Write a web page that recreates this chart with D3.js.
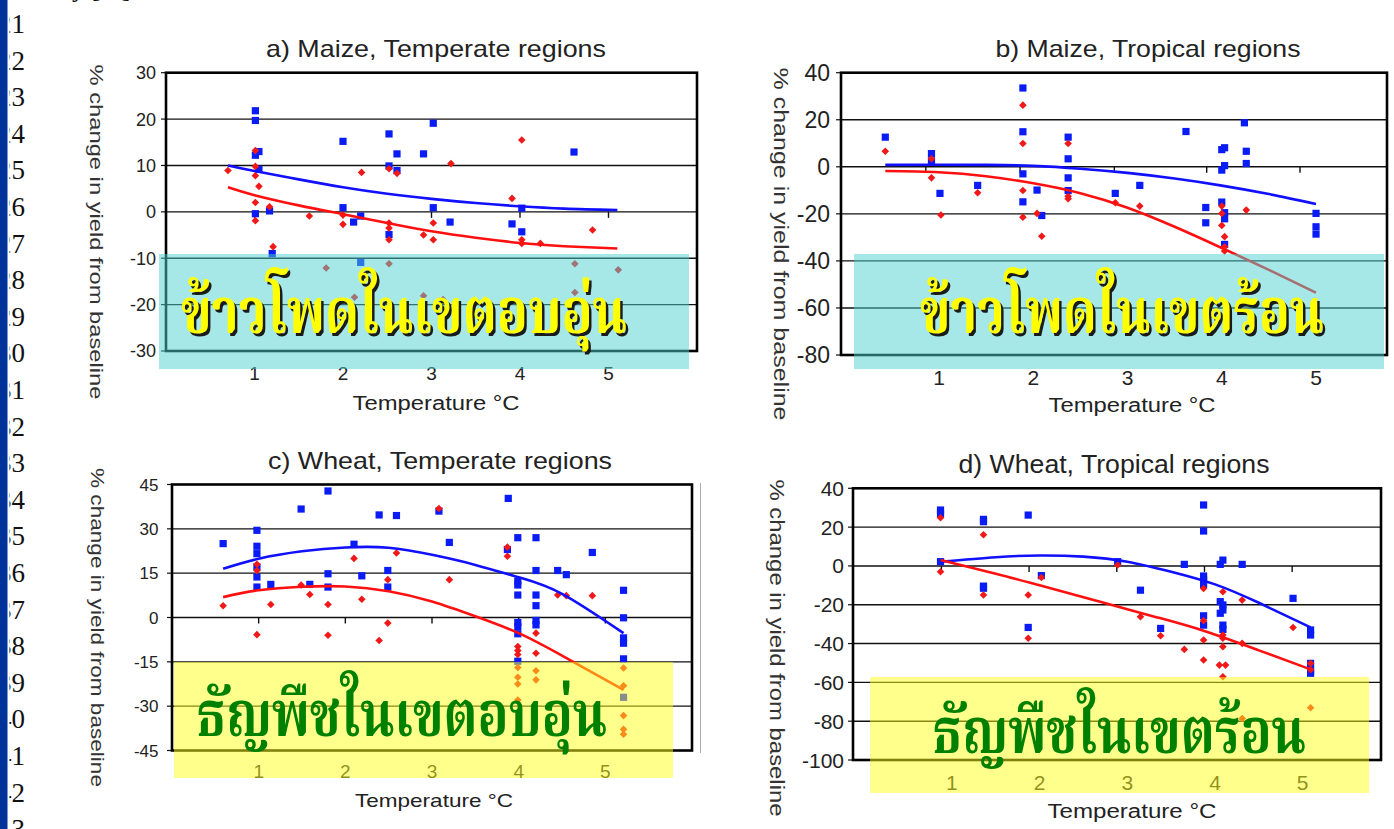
<!DOCTYPE html>
<html><head><meta charset="utf-8">
<script src="https://cdn.jsdelivr.net/npm/d3@7"></script>
<style>
html,body{margin:0;padding:0;background:#fff;overflow:hidden}
svg{display:block}
text{font-family:"Liberation Sans",Arial,sans-serif;fill:#222}
</style></head><body>
<svg id="c" width="1394" height="829"></svg>
<script>
// ---------------- DATA ----------------
const lineNumbers = ["21","22","23","24","25","26","27","28","29","30","31","32","33","34","35","36","37","38","39","40","41","42","43"];
const topFragment = "y [%]";
const titles = ["a) Maize, Temperate regions","b) Maize, Tropical regions","c) Wheat, Temperate regions","d) Wheat, Tropical regions"];
const xAxisTitle = "Temperature °C";
const yAxisTitle = "% change in yield from baseline";
const xTickLabels = [1,2,3,4,5];
const yTicksA = [-30,-20,-10,0,10,20,30];
const yTicksB = [-80,-60,-40,-20,0,20,40];
const yTicksC = [-45,-30,-15,0,15,30,45];
const yTicksD = [-100,-80,-60,-40,-20,0,20,40];
const xTickMarksA = [1,2,3,4,5];
const xTickMarksB = [0.86,1.86,2.86,3.84,4.83];
const xTickMarksC = [1,2,3,4,5];
const xTickMarksD = [0.88,1.88,2.88,3.88,4.88];
const thaiLabels = ["ข้าวโพดในเขตอบอุ่น","ข้าวโพดในเขตร้อน","ธัญพืชในเขตอบอุ่น","ธัญพืชในเขตร้อน"];

// a) Maize, temperate
const maizeTempBlue = [[1.01,21.8],[1.01,19.7],[1.01,12.2],[1.05,13.0],[1.05,9.2],[1.01,-0.4],[1.17,0.2],[1.2,-9.0],[2.0,15.2],[2.0,0.9],[2.12,-2.2],[2.2,-0.9],[2.2,-10.9],[2.52,16.8],[2.52,9.9],[2.52,-4.9],[2.61,12.5],[2.61,8.9],[2.91,12.5],[3.02,19.1],[3.02,0.9],[3.21,-2.2],[3.91,-2.6],[4.02,0.8],[4.02,-4.3],[4.61,12.9]];
const maizeTempRed = [[0.7,8.9],[1.01,13.2],[1.01,9.8],[1.01,7.8],[1.05,5.5],[1.01,2.0],[1.01,-1.9],[1.17,1.1],[1.21,-7.5],[1.62,-0.9],[1.81,-12.1],[2.0,-0.7],[2.0,-2.7],[2.13,-18.4],[2.21,8.5],[2.52,9.3],[2.52,-2.4],[2.52,-3.5],[2.52,-6.0],[2.52,-11.2],[2.61,8.3],[2.91,-5.0],[2.91,-18.1],[3.02,-2.4],[3.02,-6.0],[3.13,-18.9],[3.22,10.4],[3.91,2.9],[4.02,15.5],[4.02,-6.0],[4.02,-6.8],[4.23,-6.8],[4.62,-11.2],[4.62,-17.4],[4.82,-3.9],[5.11,-12.5]];
const maizeTempBlueFit = [[0.7,10.0],[1,8.8],[1.5,7.0],[2,5.3],[2.5,3.9],[3,2.8],[3.5,1.9],[4,1.2],[4.5,0.7],[5.1,0.4]];
const maizeTempRedFit = [[0.7,5.3],[1,3.6],[1.5,1.4],[2,-0.5],[2.5,-2.4],[3,-4.2],[3.5,-5.6],[4,-6.7],[4.5,-7.4],[5.1,-7.9]];

// b) Maize, tropical
const maizeTropBlue = [[0.43,12.6],[0.92,5.6],[0.92,2.5],[1.01,-11.3],[1.41,-7.9],[1.89,33.5],[1.89,14.9],[1.89,-3.0],[1.89,-14.9],[2.04,-9.9],[2.09,-20.7],[2.37,12.6],[2.37,3.4],[2.37,-4.7],[2.37,-10.1],[2.87,-11.3],[3.13,-7.9],[3.62,15.0],[3.83,-17.3],[3.83,-23.8],[4.0,7.3],[4.03,8.1],[4.03,0.5],[4.0,-1.4],[4.0,-15.0],[4.03,-19.5],[4.03,-22.1],[4.03,-33.0],[4.24,18.7],[4.26,6.6],[4.26,1.4],[5.0,-19.8],[5.0,-25.5],[5.0,-28.6]];
const maizeTropRed = [[0.43,6.6],[0.92,3.4],[0.92,-4.7],[1.02,-20.5],[1.41,-11.0],[1.89,26.2],[1.89,9.9],[1.89,-10.1],[1.89,-21.4],[2.04,-19.8],[2.09,-29.5],[2.37,9.9],[2.37,-12.5],[2.37,-13.6],[2.87,-15.3],[3.13,-16.7],[4.0,-16.7],[4.0,-19.8],[4.0,-24.9],[4.03,-29.7],[4.03,-34.0],[4.03,-35.8],[4.26,-18.4]];
const maizeTropBlueFit = [[0.43,0.8],[1,0.9],[1.5,0.8],[2,0.4],[2.5,-0.8],[3,-2.6],[3.5,-5.0],[4,-8.0],[4.5,-11.6],[5,-15.8]];
const maizeTropRedFit = [[0.43,-1.8],[1,-2.3],[1.5,-4.0],[2,-7.0],[2.5,-11.2],[3,-17.4],[3.5,-25.5],[4,-34.5],[4.5,-43.8],[5,-53.5]];

// c) Wheat, temperate
const wheatTempBlue = [[0.59,25.0],[0.98,29.5],[0.98,24.1],[0.98,21.6],[0.98,17.1],[0.98,13.7],[0.98,10.3],[1.14,11.2],[1.49,36.7],[1.59,11.2],[1.80,42.8],[1.80,14.8],[1.80,10.3],[2.10,24.8],[2.19,14.1],[2.39,34.7],[2.49,15.9],[2.49,10.3],[2.59,34.5],[3.08,36.0],[3.20,25.4],[3.88,40.3],[3.87,23.0],[3.99,27.0],[3.99,12.3],[3.99,11.0],[3.99,7.6],[3.99,-1.7],[3.99,-3.1],[3.99,-5.5],[3.99,-14.8],[4.20,27.0],[4.20,15.9],[4.20,7.6],[4.20,4.0],[4.20,-1.0],[4.20,-2.5],[4.45,15.9],[4.55,14.5],[4.85,22.0],[5.21,9.2],[5.21,-0.1],[5.21,-6.9],[5.21,-8.7],[5.21,-14.0],[5.21,-27.0]];
const wheatTempRed = [[0.59,4.0],[0.98,18.0],[0.98,15.9],[0.98,-5.8],[1.14,4.4],[1.49,11.0],[1.59,7.8],[1.80,4.4],[1.80,-6.0],[2.10,20.0],[2.19,6.2],[2.39,-7.8],[2.49,12.8],[2.49,-1.9],[2.59,21.8],[3.08,36.9],[3.20,12.8],[3.87,23.8],[3.87,20.7],[3.99,-9.8],[3.99,-11.2],[3.99,-12.5],[3.99,-16.9],[3.99,-20.2],[3.99,-22.5],[3.99,-27.9],[4.20,-5.3],[4.20,-12.1],[4.20,-18.0],[4.20,-21.1],[4.45,7.6],[4.55,7.4],[4.85,7.4],[5.21,-17.1],[5.21,-23.1],[5.21,-33.2],[5.21,-37.8],[5.21,-39.5]];
const wheatTempBlueFit = [[0.59,16.5],[1,19.9],[1.5,22.4],[2,23.7],[2.5,23.6],[3,21.2],[3.5,17.8],[4,13.6],[4.5,8.0],[5.21,-5.3]];
const wheatTempRedFit = [[0.59,6.9],[1,9.2],[1.5,10.4],[2,10.5],[2.5,8.9],[3,5.4],[3.5,0.4],[4,-5.3],[4.5,-12.9],[5.21,-24.5]];

// d) Wheat, tropical
const wheatTropBlue = [[0.87,28.8],[0.87,26.8],[0.87,2.2],[1.36,24.0],[1.36,22.8],[1.36,-10.4],[1.36,-11.5],[1.87,26.2],[1.87,-31.7],[2.02,-5.0],[2.89,2.2],[3.15,-12.5],[3.38,-32.2],[3.65,0.8],[3.87,31.4],[3.87,18.0],[3.87,-5.2],[3.87,-7.3],[3.87,-9.5],[3.87,-25.7],[3.87,-30.5],[4.06,0.8],[4.09,3.0],[4.06,-18.4],[4.09,-20.1],[4.09,-22.7],[4.06,-24.4],[4.09,-30.5],[4.09,-32.7],[4.31,0.8],[4.89,-16.7],[5.09,-33.0],[5.09,-35.6],[5.09,-50.2],[5.09,-53.7],[5.09,-55.3]];
const wheatTropRed = [[0.87,24.8],[0.87,-3.0],[1.36,16.1],[1.36,-15.0],[1.87,-15.0],[1.87,-37.3],[2.02,-6.0],[2.89,0.5],[3.15,-26.2],[3.38,-36.0],[3.65,-43.0],[3.87,-11.6],[3.87,-28.2],[3.87,-38.2],[3.87,-48.5],[4.09,-13.3],[4.09,-35.6],[4.09,-37.3],[4.09,-41.6],[4.05,-51.1],[4.12,-51.1],[4.09,-57.1],[4.31,-17.6],[4.31,-39.9],[4.31,-78.6],[4.89,-31.7],[5.09,-50.2],[5.09,-53.5],[5.09,-73.1]];
const wheatTropBlueFit = [[0.87,2.2],[1.5,4.5],[2,5.4],[2.5,4.8],[3,2.2],[3.5,-3.0],[4,-9.5],[4.5,-19.0],[5.09,-31.7]];
const wheatTropRedFit = [[0.87,3.0],[1.5,-4.0],[2,-10.0],[2.69,-18.4],[3.3,-26.0],[3.87,-33.4],[4.5,-43.5],[5.09,-53.3]];

// ---------------- LAYOUT ----------------
const CYAN = "rgb(77,207,207)", YEL = "rgb(255,255,25)";
const panels = [
 {title:titles[0], blue:maizeTempBlue, red:maizeTempRed, bFit:maizeTempBlueFit, rFit:maizeTempRedFit,
  yTicks:yTicksA, xMarks:xTickMarksA, L:166,R:697,T:72.7,B:351, xDom:[0,6], yDom:[-30,30],
  tX:436,tY:56.7,tW:340,tFs:24, yLabR:156,yLabFs:18, xLabY:380,xLabFs:19,
  xtX:436,xtY:410,xtW:167,xtFs:20, ytX:97,ytY:232,ytW:335,ytFs:19,
  box:[159,254,530,115], boxFill:CYAN, thai:thaiLabels[0], thX:181,thY:333,thW:446, thFill:"#ffff00", shadow:true},
 {title:titles[1], blue:maizeTropBlue, red:maizeTropRed, bFit:maizeTropBlueFit, rFit:maizeTropRedFit,
  yTicks:yTicksB, xMarks:xTickMarksB, L:841,R:1387,T:72.7,B:355, xDom:[-0.04,5.753], yDom:[-80,40],
  tX:1148,tY:57,tW:305,tFs:24, yLabR:830,yLabFs:23, xLabY:385,xLabFs:21,
  xtX:1132,xtY:411.7,xtW:167,xtFs:20, ytX:781,ytY:244,ytW:353,ytFs:21,
  box:[854,254,530,115], boxFill:CYAN, thai:thaiLabels[1], thX:920,thY:333,thW:404, thFill:"#ffff00", shadow:true},
 {title:titles[2], blue:wheatTempBlue, red:wheatTempRed, bFit:wheatTempBlueFit, rFit:wheatTempRedFit,
  yTicks:yTicksC, xMarks:xTickMarksC, L:172,R:692,T:484.5,B:750.5, xDom:[0,6], yDom:[-45,45],
  tX:440,tY:469.3,tW:344,tFs:24, yLabR:158.5,yLabFs:17, xLabY:778,xLabFs:19,
  xtX:434,xtY:806.7,xtW:158,xtFs:19, ytX:97,ytY:627.5,ytW:319,ytFs:18,
  box:[174,662,499,116], boxFill:YEL, thai:thaiLabels[2], thX:196,thY:736,thW:411, thFill:"#008000", shadow:false},
 {title:titles[3], blue:wheatTropBlue, red:wheatTropRed, bFit:wheatTropBlueFit, rFit:wheatTropRedFit,
  yTicks:yTicksD, xMarks:xTickMarksD, L:853,R:1381,T:488.3,B:760, xDom:[-0.128,5.893], yDom:[-100,40],
  tX:1114,tY:473.3,tW:311,tFs:25, yLabR:844,yLabFs:21, xLabY:790,xLabFs:21,
  xtX:1132,xtY:818,xtW:169,xtFs:20, ytX:777,ytY:648,ytW:337,ytFs:20,
  box:[870,677,499,116], boxFill:YEL, thai:thaiLabels[3], thX:932,thY:753,thW:374, thFill:"#008000", shadow:false}
];

const svg = d3.select("#c");

// fragment of text at the very top (mostly above the frame)
svg.append("text").attr("x",72).attr("y",-3).style("font-family","'Liberation Serif',serif")
  .style("font-size","26px").style("fill","#111").text(topFragment);

const diamond = "M0,-3.8L3.8,0L0,3.8L-3.8,0Z";

panels.forEach(p => {
  const g = svg.append("g");
  const x = d3.scaleLinear().domain(p.xDom).range([p.L,p.R]);
  const y = d3.scaleLinear().domain(p.yDom).range([p.B,p.T]);

  g.selectAll(".grid").data(p.yTicks.filter(v => v>p.yDom[0] && v<p.yDom[1])).join("line")
    .attr("x1",p.L).attr("x2",p.R).attr("y1",d=>y(d)).attr("y2",d=>y(d))
    .attr("stroke","#111").attr("stroke-width",1.4);
  g.selectAll(".yt").data(p.yTicks).join("line")
    .attr("x1",p.L-5).attr("x2",p.L).attr("y1",d=>y(d)).attr("y2",d=>y(d))
    .attr("stroke","#111").attr("stroke-width",1.2);
  g.selectAll(".xt").data(p.xMarks).join("line")
    .attr("x1",d=>x(d)).attr("x2",d=>x(d)).attr("y1",y(0)).attr("y2",y(0)+6)
    .attr("stroke","#111").attr("stroke-width",1.4);
  g.append("rect").attr("x",p.L).attr("y",p.T).attr("width",p.R-p.L).attr("height",p.B-p.T)
    .attr("fill","none").attr("stroke","#000").attr("stroke-width",2.6);

  g.selectAll(".bs").data(p.blue).join("rect")
    .attr("x",d=>x(d[0])-3.6).attr("y",d=>y(d[1])-3.6).attr("width",7.2).attr("height",7.2)
    .attr("fill","#0a1cf5");
  g.selectAll(".rd").data(p.red).join("path")
    .attr("d",diamond).attr("transform",d=>`translate(${x(d[0])},${y(d[1])})`)
    .attr("fill","#f01818");

  const line = d3.line().x(d=>x(d[0])).y(d=>y(d[1])).curve(d3.curveNatural);
  g.append("path").attr("d",line(p.bFit)).attr("fill","none").attr("stroke","#1010ff").attr("stroke-width",2.6);
  g.append("path").attr("d",line(p.rFit)).attr("fill","none").attr("stroke","#ff1010").attr("stroke-width",2.6);

  g.selectAll(".yl").data(p.yTicks).join("text")
    .attr("x",p.yLabR).attr("y",d=>y(d)).attr("dy","0.36em").attr("text-anchor","end")
    .style("font-size",p.yLabFs+"px").text(d=>d);
  g.selectAll(".xl").data(xTickLabels).join("text")
    .attr("x",d=>x(d)).attr("y",p.xLabY).attr("text-anchor","middle")
    .style("font-size",p.xLabFs+"px").text(d=>d);
  g.append("text").attr("x",p.tX).attr("y",p.tY).attr("text-anchor","middle")
    .attr("textLength",p.tW).attr("lengthAdjust","spacingAndGlyphs")
    .style("font-size",p.tFs+"px").text(p.title);
  g.append("text").attr("x",p.xtX).attr("y",p.xtY).attr("text-anchor","middle")
    .attr("textLength",p.xtW).attr("lengthAdjust","spacingAndGlyphs")
    .style("font-size",p.xtFs+"px").text(xAxisTitle);
  g.append("text").attr("transform",`translate(${p.ytX},${p.ytY}) rotate(90)`)
    .attr("text-anchor","middle").attr("dy","0.35em")
    .attr("textLength",p.ytW).attr("lengthAdjust","spacingAndGlyphs")
    .style("font-size",p.ytFs+"px").style("fill","#333").text(yAxisTitle);
});

svg.append("line").attr("x1",700.5).attr("x2",700.5).attr("y1",483).attr("y2",753)
  .attr("stroke","#aaa").attr("stroke-width",1);

panels.forEach(p => {
  svg.append("rect").attr("x",p.box[0]).attr("y",p.box[1]).attr("width",p.box[2]).attr("height",p.box[3])
    .attr("fill",p.boxFill).attr("fill-opacity",0.5);
  const mk = (dx,dy,fill) => svg.append("text").attr("x",p.thX+dx).attr("y",p.thY+dy)
    .attr("textLength",p.thW).attr("lengthAdjust","spacingAndGlyphs")
    .style("font-family","'Noto Serif Thai','Noto Sans Thai','Loma','Garuda','Tlwg Typo','Norasi',serif")
    .style("font-weight","bold").style("font-size","64px").style("fill",fill).text(p.thai);
  if (p.shadow) mk(2.5,2.5,"#1a1a1a");
  mk(0,0,p.thFill);
});

// left slide strip with line numbers (leading digit hidden behind the strip)
const defs = svg.append("defs");
defs.append("clipPath").attr("id","numClip").append("rect")
  .attr("x",9.5).attr("y",0).attr("width",40).attr("height",829);
svg.append("g").attr("clip-path","url(#numClip)")
  .selectAll("text").data(lineNumbers).join("text")
  .attr("x",25).attr("y",(d,i)=>33 + i*36.6).attr("text-anchor","end")
  .style("font-family","'Liberation Serif','Times New Roman',serif").style("font-size","27px").style("fill","#111")
  .text(d=>d);
svg.append("rect").attr("x",0).attr("y",0).attr("width",7.5).attr("height",829).attr("fill","#003399");
</script>
</body></html>
